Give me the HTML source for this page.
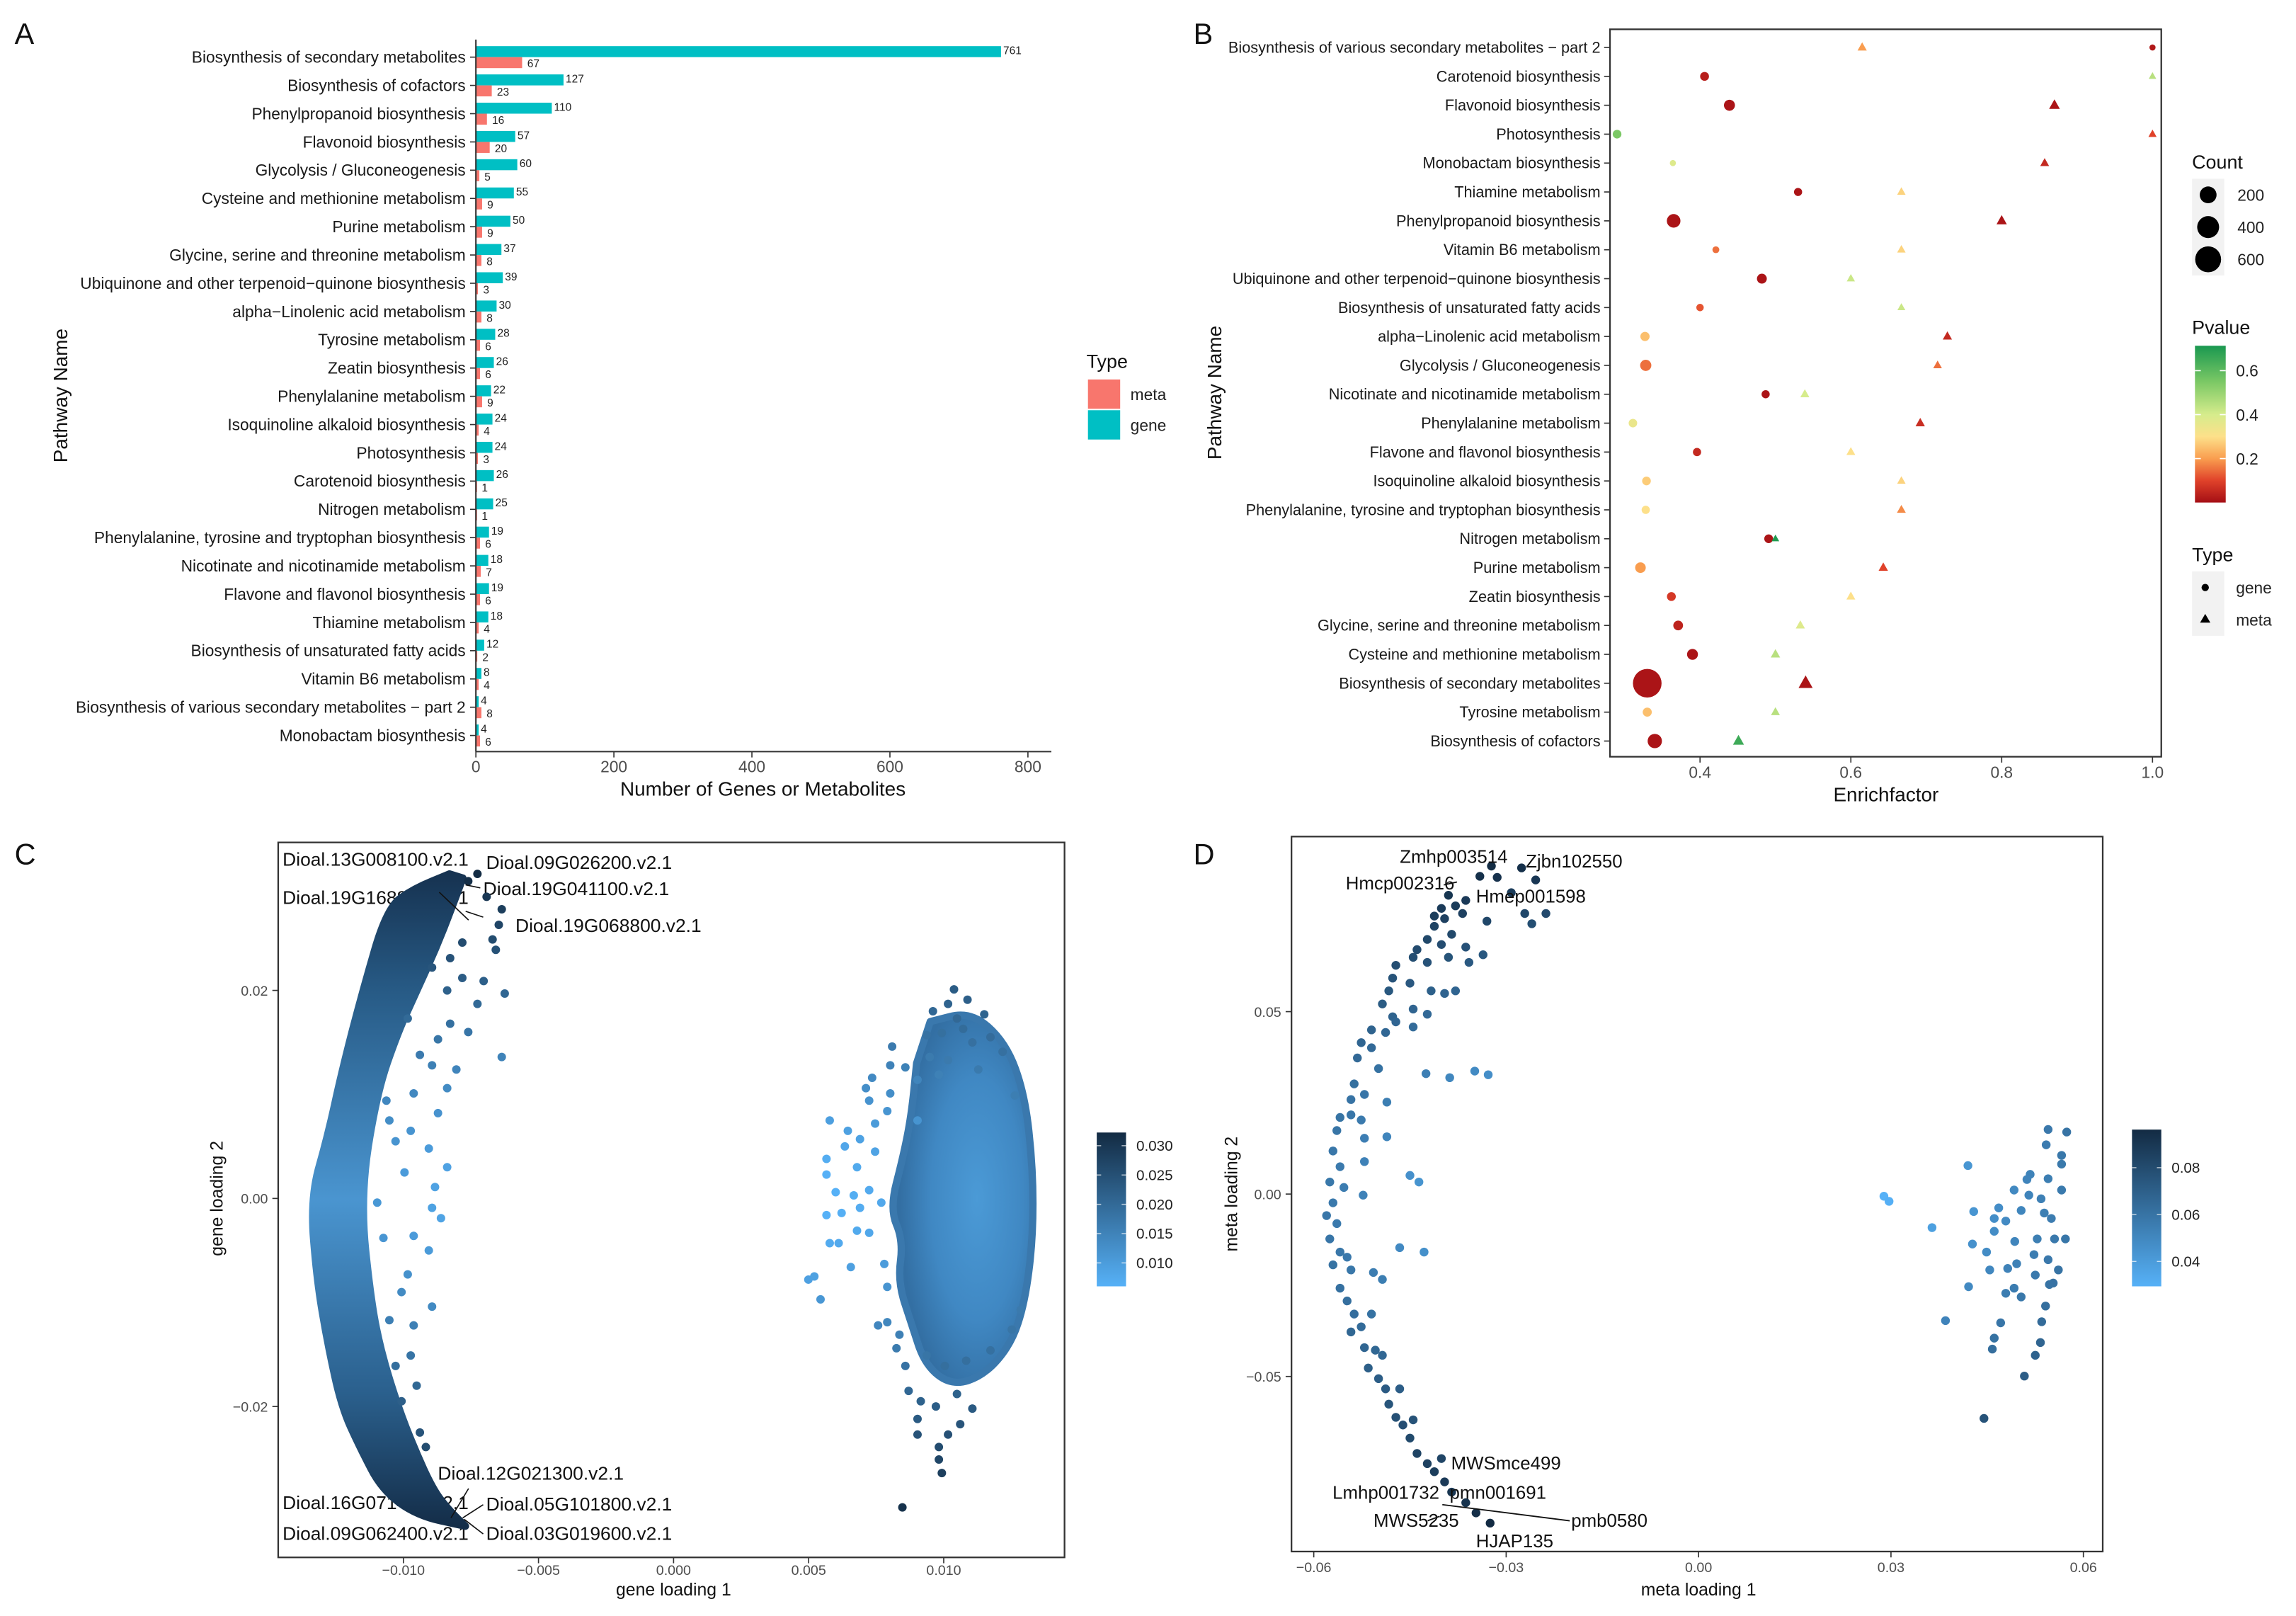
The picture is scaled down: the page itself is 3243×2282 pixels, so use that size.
<!DOCTYPE html>
<html><head><meta charset="utf-8"><style>
html,body{margin:0;padding:0;background:#fff;}
svg{display:block;font-family:"Liberation Sans",Arial,sans-serif;}
</style></head><body>
<svg id="fig" xmlns="http://www.w3.org/2000/svg" width="3243" height="2282" viewBox="0 0 1568 1103" preserveAspectRatio="none">
<defs>
<linearGradient id="pgrad" x1="0" y1="1" x2="0" y2="0">
<stop offset="0" stop-color="#a50f15"/><stop offset="0.14" stop-color="#e0422a"/><stop offset="0.28" stop-color="#f99d4f"/><stop offset="0.42" stop-color="#fde08a"/><stop offset="0.56" stop-color="#d6ec8c"/><stop offset="0.77" stop-color="#7bc865"/><stop offset="1" stop-color="#1a9850"/>
</linearGradient>
<linearGradient id="cgrad" x1="0" y1="1" x2="0" y2="0"><stop offset="0" stop-color="#56B1F7"/><stop offset="1" stop-color="#132B43"/></linearGradient>
<linearGradient id="crescent" gradientUnits="userSpaceOnUse" x1="0" y1="595" x2="0" y2="1042">
<stop offset="0" stop-color="#163250"/><stop offset="0.18" stop-color="#275a85"/><stop offset="0.5" stop-color="#4a95d0"/><stop offset="0.8" stop-color="#2a5f8c"/><stop offset="1" stop-color="#142d48"/>
</linearGradient>
<radialGradient id="blob" cx="0.6" cy="0.5" r="0.55"><stop offset="0" stop-color="#4b9ad6"/><stop offset="0.6" stop-color="#4088c3"/><stop offset="1" stop-color="#336fa3"/></radialGradient>
</defs>
<g id="root"></g>
</svg>
<script>
// ---------- Panel A data ----------
const categoriesA = ["Biosynthesis of secondary metabolites","Biosynthesis of cofactors","Phenylpropanoid biosynthesis","Flavonoid biosynthesis","Glycolysis / Gluconeogenesis","Cysteine and methionine metabolism","Purine metabolism","Glycine, serine and threonine metabolism","Ubiquinone and other terpenoid\u2212quinone biosynthesis","alpha\u2212Linolenic acid metabolism","Tyrosine metabolism","Zeatin biosynthesis","Phenylalanine metabolism","Isoquinoline alkaloid biosynthesis","Photosynthesis","Carotenoid biosynthesis","Nitrogen metabolism","Phenylalanine, tyrosine and tryptophan biosynthesis","Nicotinate and nicotinamide metabolism","Flavone and flavonol biosynthesis","Thiamine metabolism","Biosynthesis of unsaturated fatty acids","Vitamin B6 metabolism","Biosynthesis of various secondary metabolites \u2212 part 2","Monobactam biosynthesis"];
const geneCounts = [761,127,110,57,60,55,50,37,39,30,28,26,22,24,24,26,25,19,18,19,18,12,8,4,4];
const metaCounts = [67,23,16,20,5,9,9,8,3,8,6,6,9,4,3,1,1,6,7,6,4,2,4,8,6];
const ticksA = [0,200,400,600,800];
// ---------- Panel B data ----------
const categoriesB = ["Biosynthesis of various secondary metabolites \u2212 part 2","Carotenoid biosynthesis","Flavonoid biosynthesis","Photosynthesis","Monobactam biosynthesis","Thiamine metabolism","Phenylpropanoid biosynthesis","Vitamin B6 metabolism","Ubiquinone and other terpenoid\u2212quinone biosynthesis","Biosynthesis of unsaturated fatty acids","alpha\u2212Linolenic acid metabolism","Glycolysis / Gluconeogenesis","Nicotinate and nicotinamide metabolism","Phenylalanine metabolism","Flavone and flavonol biosynthesis","Isoquinoline alkaloid biosynthesis","Phenylalanine, tyrosine and tryptophan biosynthesis","Nitrogen metabolism","Purine metabolism","Zeatin biosynthesis","Glycine, serine and threonine metabolism","Cysteine and methionine metabolism","Biosynthesis of secondary metabolites","Tyrosine metabolism","Biosynthesis of cofactors"];
const geneEF = [1.0,0.406,0.439,0.29,0.364,0.53,0.365,0.421,0.482,0.4,0.327,0.328,0.487,0.311,0.396,0.329,0.328,0.491,0.321,0.362,0.371,0.39,0.33,0.33,0.34];
const geneP = [0.02,0.03,0.01,0.55,0.38,0.01,0.01,0.15,0.01,0.12,0.25,0.15,0.01,0.35,0.05,0.27,0.3,0.01,0.2,0.08,0.04,0.01,0.01,0.25,0.01];
const metaEF = [0.615,1.0,0.87,1.0,0.857,0.667,0.8,0.667,0.6,0.667,0.728,0.715,0.539,0.692,0.6,0.667,0.667,0.5,0.643,0.6,0.533,0.5,0.54,0.5,0.451];
const metaP = [0.2,0.45,0.01,0.1,0.05,0.28,0.01,0.28,0.42,0.42,0.05,0.15,0.4,0.06,0.3,0.28,0.18,0.7,0.1,0.3,0.38,0.45,0.01,0.45,0.65];
const ticksB = [0.4,0.6,0.8,1.0];
const countLegend = [200,400,600];
const pLegend = [0.2,0.4,0.6];
// ---------- Panel C data (values in 0.001 units) ----------
const cTicksX = [-10,-5,0,5,10];
const cTicksY = [-20,0,20];
const cLegend = [10,15,20,25,30];
const cOuterEdge = [[-8.3,31.2],[-9.6,29.8],[-10.6,28],[-11.5,20],[-12.3,12],[-12.8,6],[-13.45,0],[-13.2,-8],[-12.8,-14],[-12.3,-20],[-11.6,-24],[-10.8,-28],[-9.5,-30.5],[-7.7,-31.5]];
const cInnerEdge = [[-7.7,-31.5],[-8.3,-30],[-8.9,-28],[-9.6,-24],[-10.2,-20],[-10.8,-15],[-11.2,-10],[-11.6,0],[-11.0,10],[-10.2,16],[-9.5,20],[-8.8,24],[-8.2,28],[-7.8,30.8]];
const cBlobEdge = [[9.5,17],[11,18],[12.3,15],[13,10],[13.3,3],[13.3,-4],[13,-10],[12.5,-14],[11.5,-17],[10.3,-18],[9.3,-16],[8.8,-12],[8.3,-8],[8.5,-4],[8,-1],[8.5,4],[8.8,8],[9,13]];
const cLeftX = [-7.26,-7.6,-6.92,-6.36,-6.47,-6.7,-6.58,-7.82,-7.03,-6.25,-7.26,-7.82,-8.27,-7.6,-6.36,-8.38,-8.72,-8.94,-9.62,-8.38,-8.72,-9.06,-8.38,-8.83,-8.94,-8.61,-9.62,-9.06,-8.94,-9.84,-10.07,-9.62,-9.73,-9.51,-10.07,-9.39,-9.17,-10.63,-10.29,-9.96,-10.97,-10.74,-10.52,-10.29,-8.04,-9.73,-10.52,-9.39,-9.84,-8.94,-8.27];
const cLeftY = [31.2,30.5,29.0,27.8,26.3,24.9,23.9,24.6,20.9,19.7,18.7,21.2,16.8,16.0,13.6,20.0,15.3,12.8,10.1,10.6,8.2,4.8,3.0,1.1,-0.9,-1.9,-3.6,-5.0,-10.4,-7.3,-9.0,-12.2,-15.1,-18.0,-19.5,-22.5,-23.9,9.4,5.5,2.5,-0.4,-3.8,-11.7,-16.1,12.4,6.5,7.5,13.8,17.3,22.2,23.1];
const cRightX = [10.38,10.88,9.6,10.16,11.5,10.49,9.37,9.93,10.72,11.73,8.09,11.06,12.18,9.48,8.58,8.02,7.35,10.16,7.12,8.02,9.03,9.82,11.28,12.63,7.24,7.91,9.03,5.78,6.45,6.9,7.46,6.34,7.46,5.66,6.79,5.66,6.0,6.67,7.24,5.66,6.22,6.9,7.69,5.78,6.11,6.79,7.24,4.99,5.21,5.44,6.56,7.8,7.91,7.57,7.91,8.36,8.25,8.58,9.37,10.04,10.83,11.73,12.52,12.85,8.7,9.15,9.71,10.49,11.06,9.03,10.61,10.16,9.03,9.82,9.82,9.93,8.47];
const cRightY = [20.1,19.1,18.0,18.7,17.7,17.3,15.7,15.9,16.3,15.5,14.6,15.0,14.1,13.6,12.6,12.8,11.6,13.3,10.6,10.1,11.4,11.9,12.4,9.9,9.4,8.4,7.5,7.5,6.5,5.7,7.2,5.0,4.5,3.8,3.0,2.3,0.6,0.3,0.8,-1.6,-1.4,-0.9,-0.4,-4.3,-4.3,-3.1,-3.3,-7.8,-7.5,-9.7,-6.6,-6.3,-8.5,-12.2,-11.9,-13.1,-14.4,-16.1,-15.1,-16.1,-15.6,-14.6,-12.6,-10.7,-18.5,-19.5,-20.0,-18.8,-20.2,-21.2,-21.7,-22.7,-22.7,-23.9,-25.1,-26.4,-29.7];
const cLabels = ["Dioal.13G008100.v2.1","Dioal.09G026200.v2.1","Dioal.19G168800.v2.1","Dioal.19G041100.v2.1","Dioal.19G068800.v2.1","Dioal.12G021300.v2.1","Dioal.16G071400.v2.1","Dioal.05G101800.v2.1","Dioal.09G062400.v2.1","Dioal.03G019600.v2.1"];
// ---------- Panel D data (values in 0.001 units) ----------
const dTicksX = [-60,-30,0,30,60];
const dTicksY = [-50,0,50];
const dLegend = [40,60,80];
const dX = [-32.3,-27.6,-31.4,-34.1,-25.4,-29.2,-39.0,-36.3,-37.9,-40.1,-41.2,-39.6,-36.8,-33.0,-27.1,-23.8,-26.0,-41.2,-38.5,-42.3,-40.1,-36.3,-43.9,-44.5,-39.0,-35.8,-33.6,-47.2,-42.3,-47.7,-45.0,-41.7,-39.6,-37.9,-48.3,-49.3,-47.7,-44.5,-42.3,-44.5,-47.2,-48.8,-51.0,-52.6,-51.0,-53.2,-49.9,-53.7,-54.2,-52.1,-55.9,-54.2,-56.4,-52.6,-57.0,-55.9,-52.1,-57.5,-55.3,-57.0,-58.0,-56.4,-57.5,-55.9,-57.0,-54.2,-55.9,-54.8,-53.7,-52.6,-54.2,-52.1,-50.4,-51.5,-49.9,-48.8,-46.6,-48.3,-47.2,-46.1,-44.5,-45.0,-43.9,-42.3,-40.1,-41.2,-39.6,-38.5,-36.3,-34.7,-32.5,-51.0,-49.3,-54.8,-42.5,-38.8,-34.9,-32.8,-48.6,-48.6,-52.1,-45.0,-43.6,-46.6,-42.8,-52.3,-50.7,-49.3,54.5,57.4,54.2,56.6,42.0,56.6,51.7,51.2,54.5,56.6,49.2,51.5,53.4,46.8,50.3,42.9,53.9,47.9,46.1,55.0,28.9,29.7,36.4,42.7,46.1,49.3,52.8,55.5,57.2,44.9,49.6,52.3,54.5,56.1,45.4,48.2,52.5,55.3,42.1,47.9,49.2,50.3,54.7,38.5,47.1,53.5,54.1,46.1,45.8,53.3,52.5,50.8,44.5];
const dY = [89.9,89.4,86.8,87.1,86.1,82.6,81.9,80.5,79.0,78.3,76.2,75.5,76.9,74.8,76.9,76.9,74.1,73.4,71.2,69.8,68.4,67.7,67.0,64.9,64.9,63.5,65.6,62.7,63.5,59.2,57.8,55.7,55.0,55.7,55.7,52.1,48.6,50.7,49.3,45.8,47.2,44.3,45.0,41.5,40.1,37.3,34.4,30.2,25.9,27.3,21.0,21.7,17.4,20.3,11.8,7.5,8.9,3.3,1.8,-2.4,-5.9,-8.1,-12.3,-15.9,-19.4,-20.8,-25.8,-29.3,-32.9,-36.4,-37.8,-42.1,-42.8,-47.7,-50.6,-53.4,-53.4,-57.6,-61.2,-63.3,-61.9,-66.9,-71.1,-73.9,-72.5,-76.1,-78.9,-81.7,-84.6,-87.4,-90.2,-32.9,-44.2,-17.3,33.0,31.9,33.7,32.7,25.2,15.7,15.3,5.1,3.3,-14.7,-15.9,-0.3,-21.5,-23.4,17.7,17.0,13.5,10.6,7.8,8.2,5.4,4.0,4.2,1.1,1.1,-0.3,-1.3,-3.8,-4.5,-4.8,-5.2,-7.4,-6.7,-6.7,-0.6,-2.0,-9.2,-13.7,-10.2,-13.0,-12.3,-12.3,-12.3,-15.9,-19.1,-16.6,-18.0,-20.8,-20.8,-20.4,-22.2,-24.4,-25.4,-27.2,-25.8,-28.2,-24.8,-34.7,-35.3,-35.0,-30.7,-39.5,-42.5,-40.7,-44.2,-49.9,-61.5];
const dLabels = ["Zmhp003514","Zjbn102550","Hmcp002316","Hmep001598","MWSmce499","Lmhp001732","pmn001691","MWS5235","pmb0580","HJAP135"];

const NS = "http://www.w3.org/2000/svg";
const root = document.getElementById('root');
function mk(tag, attrs, parent){const e=document.createElementNS(NS,tag);for(const k in attrs)e.setAttribute(k,attrs[k]);(parent||root).appendChild(e);return e;}
function txt(s, attrs, parent){const e=mk('text',attrs,parent);e.textContent=s;return e;}
function hex(c){return [parseInt(c.slice(1,3),16),parseInt(c.slice(3,5),16),parseInt(c.slice(5,7),16)];}
function interp(stops,v){
  if(v<=stops[0][0])return stops[0][1]; if(v>=stops[stops.length-1][0])return stops[stops.length-1][1];
  for(let i=0;i<stops.length-1;i++){const a=stops[i],b=stops[i+1];if(v>=a[0]&&v<=b[0]){const t=(v-a[0])/(b[0]-a[0]);const ca=hex(a[1]),cb=hex(b[1]);return 'rgb('+ca.map((x,j)=>Math.round(x+(cb[j]-x)*t)).join(',')+')';}}
}
const pStops=[[0,'#a50f15'],[0.1,'#e0422a'],[0.2,'#f99d4f'],[0.3,'#fde08a'],[0.4,'#d6ec8c'],[0.55,'#7bc865'],[0.71,'#1a9850']];

[['A',10,30],['B',815,30],['C',10,590],['D',815,590]].forEach(l=>{
  const t=txt(l[0],{x:l[1],y:l[2],'font-size':20,fill:'#111'});
  
  
});

// ================= Panel A =================
const gA=mk('g',{});


const ax0=325, axScale=(702-325)/800;
const xA=v=>ax0+v*axScale;
const yA=i=>39+i*((502-39)/24);
categoriesA.forEach((c,i)=>{
  const y=yA(i);
  const lab=txt(c,{x:318,y:y+3.8,'font-size':11,'text-anchor':'end',fill:'#1a1a1a'},gA);
  
  
  const tk=mk('line',{x1:321,x2:325,y1:y,y2:y,stroke:'#333','stroke-width':0.8},gA);
  
  
  const gb=mk('rect',{x:xA(0),y:y-7.5,width:Math.max(0.8,xA(geneCounts[i])-xA(0)),height:7.5,fill:'#00BFC4'},gA);
  
  
  const mb=mk('rect',{x:xA(0),y:y,width:Math.max(0.8,xA(metaCounts[i])-xA(0)),height:7.5,fill:'#F8766D'},gA);
  
  
  const gl=txt(String(geneCounts[i]),{x:xA(geneCounts[i])+1.5,y:y-2,'font-size':7.5,fill:'#222'},gA);
  
  
  const ml=txt(String(metaCounts[i]),{x:xA(metaCounts[i])+3.5,y:y+7,'font-size':7.5,fill:'#222'},gA);
  
  
});
const ayA=mk('line',{x1:325,x2:325,y1:27,y2:513,stroke:'#333','stroke-width':1},gA);


const axA=mk('line',{x1:325,x2:718,y1:513,y2:513,stroke:'#333','stroke-width':1},gA);


ticksA.forEach(t=>{
  const l=mk('line',{x1:xA(t),x2:xA(t),y1:513,y2:517,stroke:'#333','stroke-width':0.8},gA);
  
  
  const tl=txt(String(t),{x:xA(t),y:527,'font-size':11,'text-anchor':'middle',fill:'#4d4d4d'},gA);
  
  
});
const xtA=txt('Number of Genes or Metabolites',{x:521,y:543,'font-size':13.5,'text-anchor':'middle',fill:'#111'},gA);


const ytA=txt('Pathway Name',{x:0,y:0,'font-size':13.5,'text-anchor':'middle',fill:'#111',transform:'translate(46,270) rotate(-90)'},gA);


const lgA=mk('g',{},gA);


txt('Type',{x:742,y:251,'font-size':13,fill:'#111'},lgA);
[['meta','#F8766D',259],['gene','#00BFC4',280]].forEach(e=>{
  const r=mk('rect',{x:743,y:e[2],width:22,height:20,fill:e[1]},lgA);
  
  
  const t=txt(e[0],{x:772,y:e[2]+14,'font-size':11,fill:'#222'},lgA);
  
  
});

// ================= Panel B =================
const gB=mk('g',{});


const bx0=1161-0.4*515, bScale=515;
const xB=v=>bx0+v*bScale;
const yB=i=>32.4+i*((505.8-32.4)/24);
const rB=n=>1.5+0.3*Math.sqrt(n);
const boxB=mk('rect',{x:1099.5,y:20,width:376.5,height:496.5,fill:'none',stroke:'#333','stroke-width':1.1},gB);


function countOf(name,arr){const i=categoriesA.indexOf(name);return i>=0?arr[i]:4;}
categoriesB.forEach((c,i)=>{
  const y=yB(i);
  const lab=txt(c,{x:1093,y:y+3.6,'font-size':10.5,'text-anchor':'end',fill:'#1a1a1a'},gB);
  
  
  const tk=mk('line',{x1:1095.5,x2:1099.5,y1:y,y2:y,stroke:'#333','stroke-width':0.8},gB);
  
  
  const ng=countOf(c,geneCounts), nm=countOf(c,metaCounts);
  const ci=mk('circle',{cx:xB(geneEF[i]),cy:y,r:rB(ng),fill:interp(pStops,geneP[i])},gB);
  
  
  const s=rB(nm)*1.15+0.8, x=xB(metaEF[i]);
  const tr=mk('polygon',{points:`${x},${y-s} ${x-s*0.9},${y+s*0.6} ${x+s*0.9},${y+s*0.6}`,fill:interp(pStops,metaP[i])},gB);
  
  
});
ticksB.forEach(t=>{
  const l=mk('line',{x1:xB(t),x2:xB(t),y1:516.5,y2:520.5,stroke:'#333','stroke-width':0.8},gB);
  
  
  const tl=txt(t.toFixed(1),{x:xB(t),y:531,'font-size':11,'text-anchor':'middle',fill:'#4d4d4d'},gB);
  
  
});
const xtB=txt('Enrichfactor',{x:1288,y:547,'font-size':13.5,'text-anchor':'middle',fill:'#111'},gB);


const ytB=txt('Pathway Name',{x:0,y:0,'font-size':13.5,'text-anchor':'middle',fill:'#111',transform:'translate(834,268) rotate(-90)'},gB);


const lgC=mk('g',{},gB);


txt('Count',{x:1497,y:115,'font-size':13,fill:'#111'},lgC);
mk('rect',{x:1497,y:122,width:22,height:66,fill:'#f2f2f2'},lgC);
countLegend.forEach((n,k)=>{
  const cy=133+k*22;
  const c=mk('circle',{cx:1508,cy:cy,r:rB(n),fill:'#000'},lgC);
  
  
  const t=txt(String(n),{x:1528,y:cy+4,'font-size':11,fill:'#222'},lgC);
  
  
});
const lgP=mk('g',{},gB);


txt('Pvalue',{x:1497,y:228,'font-size':13,fill:'#111'},lgP);
const pBot=343, pPer=30/0.2;
mk('rect',{x:1499,y:236,width:21,height:107,fill:'url(#pgrad)'},lgP);
pLegend.forEach(v=>{
  const y=pBot-v*pPer;
  mk('line',{x1:1499,x2:1503,y1:y,y2:y,stroke:'#fff','stroke-width':0.8},lgP);
  mk('line',{x1:1516,x2:1520,y1:y,y2:y,stroke:'#fff','stroke-width':0.8},lgP);
  const t=txt(v.toFixed(1),{x:1527,y:y+4,'font-size':11,fill:'#222'},lgP);
  
  
});
const lgT=mk('g',{},gB);


txt('Type',{x:1497,y:383,'font-size':13,fill:'#111'},lgT);
mk('rect',{x:1497,y:390,width:22,height:44,fill:'#f2f2f2'},lgT);
mk('circle',{cx:1506,cy:401,r:2.5,fill:'#000'},lgT);
mk('polygon',{points:'1506,419 1502.5,425 1509.5,425',fill:'#000'},lgT);
txt('gene',{x:1527,y:405,'font-size':11,fill:'#222'},lgT);
txt('meta',{x:1527,y:427,'font-size':11,fill:'#222'},lgT);

// ================= Panel C =================
const gC=mk('g',{});


const xC=v=>460+v*18.45, yC=v=>818-v*7.1;
const colC=(x,y)=>interp([[6,'#56B1F7'],[32.2,'#132B43']],Math.sqrt(x*x+y*y));
const boxC=mk('rect',{x:190,y:575,width:537,height:488,fill:'none',stroke:'#333','stroke-width':1.1},gC);


const cLabelPos=[[193,591],[332,593],[193,617],[330,611],[352,636],[299,1010],[193,1030],[332,1031],[193,1051],[332,1051]];
cLabels.forEach((s,k)=>{
  const t=txt(s,{x:cLabelPos[k][0],y:cLabelPos[k][1],'font-size':12.3,fill:'#111',textLength:127,lengthAdjust:'spacingAndGlyphs'},gC);
  
  
});
function smoothPath(pts,fx,fy){
  const P=pts.map(p=>[fx(p[0]),fy(p[1])]);
  let d='M'+P[0][0].toFixed(1)+','+P[0][1].toFixed(1);
  for(let i=1;i<P.length;i++){const a=P[i-1],b=P[i];d+=' Q'+a[0].toFixed(1)+','+a[1].toFixed(1)+' '+((a[0]+b[0])/2).toFixed(1)+','+((a[1]+b[1])/2).toFixed(1);}
  d+=' L'+P[P.length-1][0].toFixed(1)+','+P[P.length-1][1].toFixed(1)+' Z';return d;
}
const cres=mk('path',{d:smoothPath(cOuterEdge.concat(cInnerEdge),xC,yC),fill:'url(#crescent)','stroke':'url(#crescent)','stroke-width':5,'stroke-linejoin':'round'},gC);


const blob=mk('path',{d:smoothPath(cBlobEdge,xC,yC),fill:'url(#blob)',stroke:'#3a78ad','stroke-width':5,'stroke-linejoin':'round'},gC);


cLeftX.forEach((x,i)=>{
  const c=mk('circle',{cx:xC(x),cy:yC(cLeftY[i]),r:2.9,fill:colC(x,cLeftY[i])},gC);
  
  
});
cRightX.forEach((x,i)=>{
  const c=mk('circle',{cx:xC(x),cy:yC(cRightY[i]),r:2.9,fill:colC(x,cRightY[i])},gC);
  
  
});
[[300,609,320,628],[328,606,318,604],[330,626,318,622],[320,1016,308,1036],[330,1027,316,1036],[330,1047,317,1037]].forEach(l=>{
  const ln=mk('line',{x1:l[0],y1:l[1],x2:l[2],y2:l[3],stroke:'#111','stroke-width':0.8},gC);
  
  
});
cTicksX.forEach(t=>{
  mk('line',{x1:xC(t),x2:xC(t),y1:1063,y2:1067,stroke:'#333','stroke-width':0.8},gC);
  const tl=txt((t/1000).toFixed(3).replace('-','\u2212'),{x:xC(t),y:1075,'font-size':9.5,'text-anchor':'middle',fill:'#4d4d4d'},gC);
  
  
});
cTicksY.forEach(t=>{
  mk('line',{x1:186,x2:190,y1:yC(t),y2:yC(t),stroke:'#333','stroke-width':0.8},gC);
  const tl=txt((t/1000).toFixed(2).replace('-','\u2212'),{x:183,y:yC(t)+3.5,'font-size':9.5,'text-anchor':'end',fill:'#4d4d4d'},gC);
  
  
});
const xtC=txt('gene loading 1',{x:460,y:1089,'font-size':12,'text-anchor':'middle',fill:'#111'},gC);


const ytC=txt('gene loading 2',{x:0,y:0,'font-size':12,'text-anchor':'middle',fill:'#111',transform:'translate(152,818) rotate(-90)'},gC);


const lgCC=mk('g',{},gC);


mk('rect',{x:749,y:773,width:20,height:105,fill:'url(#cgrad)'},lgCC);
cLegend.forEach(v=>{
  const y=878-(v-6)*4.0;
  mk('line',{x1:749,x2:752,y1:y,y2:y,stroke:'#fff','stroke-width':0.7,opacity:0.7},lgCC);
  mk('line',{x1:766,x2:769,y1:y,y2:y,stroke:'#fff','stroke-width':0.7,opacity:0.7},lgCC);
  const t=txt((v/1000).toFixed(3),{x:776,y:y+3.5,'font-size':10,fill:'#222'},lgCC);
  
  
});

// ================= Panel D =================
const gD=mk('g',{});


const xD=v=>1160+v*4.38, yD=v=>815-v*2.49;
const colD=(x,y)=>interp([[29,'#56B1F7'],[96,'#132B43']],Math.sqrt(x*x+y*y));
const boxD=mk('rect',{x:882,y:571,width:554,height:488,fill:'none',stroke:'#333','stroke-width':1.1},gD);


dX.forEach((x,i)=>{
  const c=mk('circle',{cx:xD(x),cy:yD(dY[i]),r:3,fill:colD(x,dY[i])},gD);
  
  
});
const dLabelPos=[[956,589],[1042,592],[919,607],[1008,616],[991,1003],[910,1023],[990,1023],[938,1042],[1073,1042],[1008,1056]];
dLabels.forEach((s,k)=>{
  const t=txt(s,{x:dLabelPos[k][0],y:dLabelPos[k][1],'font-size':12.5,fill:'#111'},gD);
  
  
});
[[986,604,995,602],[985,1027,1072,1038],[975,1038,983,1035]].forEach(l=>{
  const ln=mk('line',{x1:l[0],y1:l[1],x2:l[2],y2:l[3],stroke:'#111','stroke-width':0.9},gD);
  
  
});
dTicksX.forEach(t=>{
  mk('line',{x1:xD(t),x2:xD(t),y1:1059,y2:1063,stroke:'#333','stroke-width':0.8},gD);
  const tl=txt((t/1000).toFixed(2).replace('-','\u2212'),{x:xD(t),y:1073,'font-size':9.5,'text-anchor':'middle',fill:'#4d4d4d'},gD);
  
  
});
dTicksY.forEach(t=>{
  mk('line',{x1:878,x2:882,y1:yD(t),y2:yD(t),stroke:'#333','stroke-width':0.8},gD);
  const tl=txt((t/1000).toFixed(2).replace('-','\u2212'),{x:875,y:yD(t)+3.5,'font-size':9.5,'text-anchor':'end',fill:'#4d4d4d'},gD);
  
  
});
const xtD=txt('meta loading 1',{x:1160,y:1089,'font-size':12,'text-anchor':'middle',fill:'#111'},gD);


const ytD=txt('meta loading 2',{x:0,y:0,'font-size':12,'text-anchor':'middle',fill:'#111',transform:'translate(845,815) rotate(-90)'},gD);


const lgD=mk('g',{},gD);


mk('rect',{x:1456,y:771,width:20,height:107,fill:'url(#cgrad)'},lgD);
dLegend.forEach(v=>{
  const y=861-(v-40)*1.6;
  mk('line',{x1:1456,x2:1459,y1:y,y2:y,stroke:'#fff','stroke-width':0.7,opacity:0.7},lgD);
  mk('line',{x1:1473,x2:1476,y1:y,y2:y,stroke:'#fff','stroke-width':0.7,opacity:0.7},lgD);
  const t=txt((v/1000).toFixed(2),{x:1483,y:y+3.5,'font-size':10,fill:'#222'},lgD);
  
  
});
</script>
</body></html>
